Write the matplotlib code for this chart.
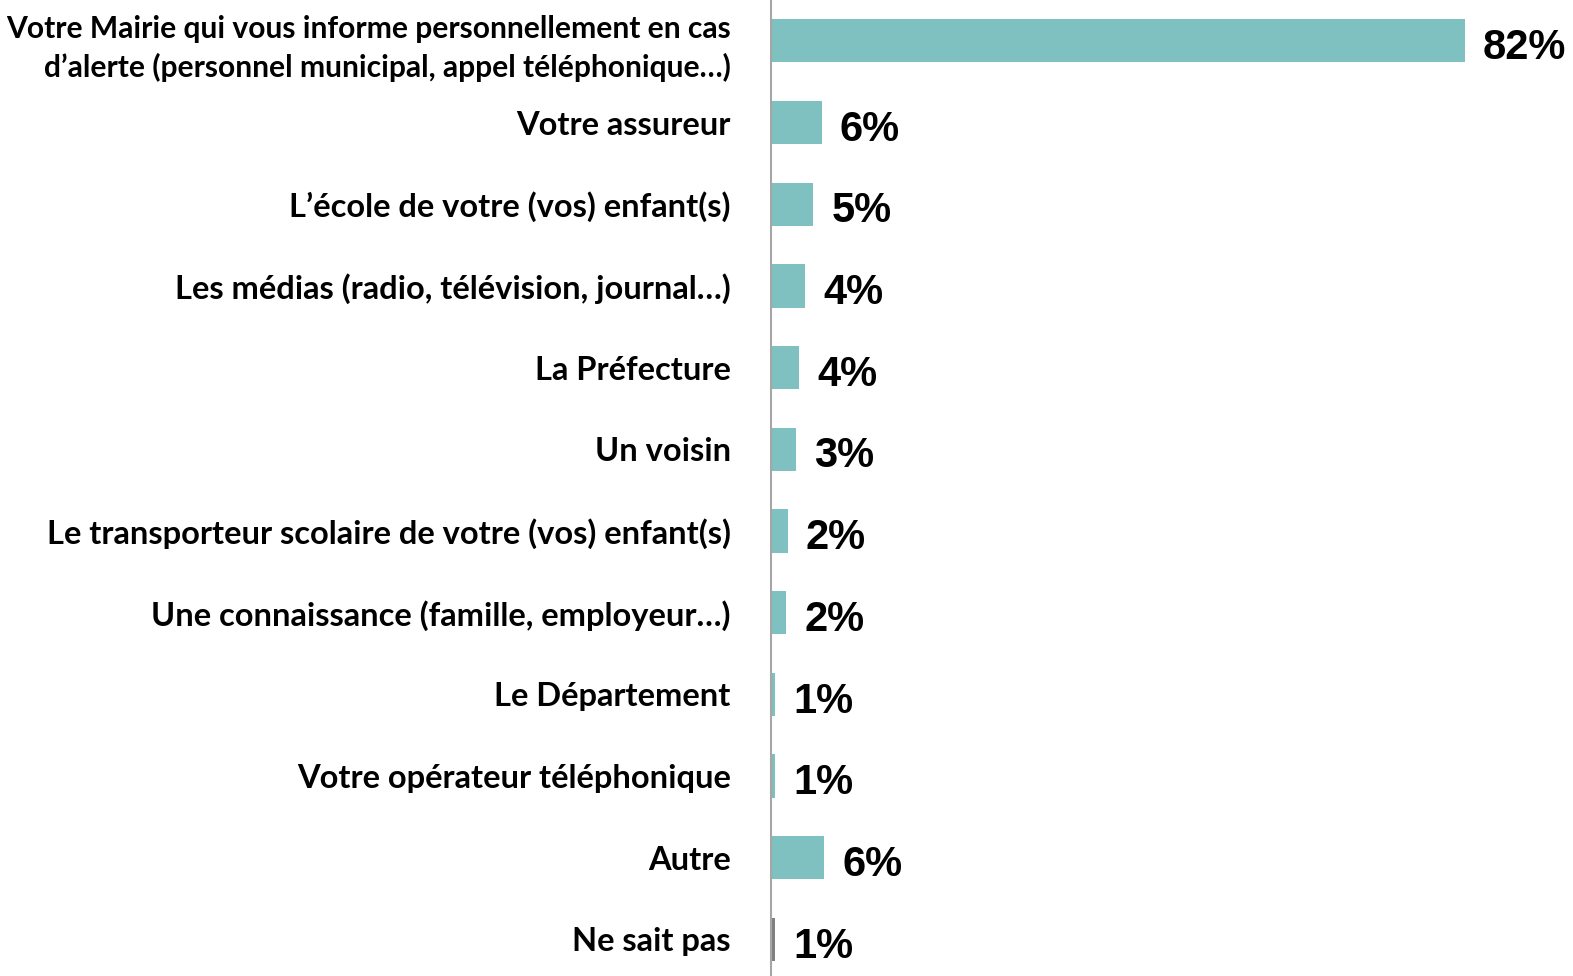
import matplotlib.pyplot as plt

# Categories, top to bottom
categories = [
    "Votre Mairie qui vous informe personnellement en cas\nd’alerte (personnel municipal, appel téléphonique…)",
    "Votre assureur",
    "L’école de votre (vos) enfant(s)",
    "Les médias (radio, télévision, journal…)",
    "La Préfecture",
    "Un voisin",
    "Le transporteur scolaire de votre (vos) enfant(s)",
    "Une connaissance (famille, employeur…)",
    "Le Département",
    "Votre opérateur téléphonique",
    "Autre",
    "Ne sait pas",
]
values = [82, 6, 5, 4, 3.3, 3, 2, 1.8, 0.5, 0.5, 6.3, 0.5]
value_labels = ["82%", "6%", "5%", "4%", "4%", "3%", "2%", "2%", "1%", "1%", "6%", "1%"]
colors = ["#7fc0c0"] * 11 + ["#808080"]

fig = plt.figure(figsize=(15.73, 9.76), dpi=100)
ax = fig.add_axes([771 / 1573, 0.0, 1 - 771 / 1573, 1.0])

y = list(range(len(categories)))
ax.barh(y, values, height=0.53, color=colors)

# Value labels to the right of each bar
for yi, v, lab in zip(y, values, value_labels):
    ax.annotate(lab, (v, yi), xytext=(13, -2), textcoords="offset points",
                va="center_baseline", ha="left", fontsize=30, fontweight="bold",
                family="Liberation Sans")

ax.set_ylim(11.45, -0.5)
ax.set_xlim(0, 94.8)
ax.set_yticks(y)
ax.set_yticklabels(categories, fontsize=23.5, fontweight="bold", family="Lato",
                   ha="right", multialignment="right", linespacing=1.3)
# the two-line label is a bit wider in Lato than in the original font
first = ax.get_yticklabels()[0]
first.set_fontsize(21.6)
first.set_linespacing(1.42)
ax.tick_params(axis="y", length=0, pad=29)
ax.set_xticks([])

for side in ["top", "right", "bottom"]:
    ax.spines[side].set_visible(False)
ax.spines["left"].set_color("#a6a6a6")
ax.spines["left"].set_linewidth(1.5)

fig.savefig("out.png", dpi=100)
